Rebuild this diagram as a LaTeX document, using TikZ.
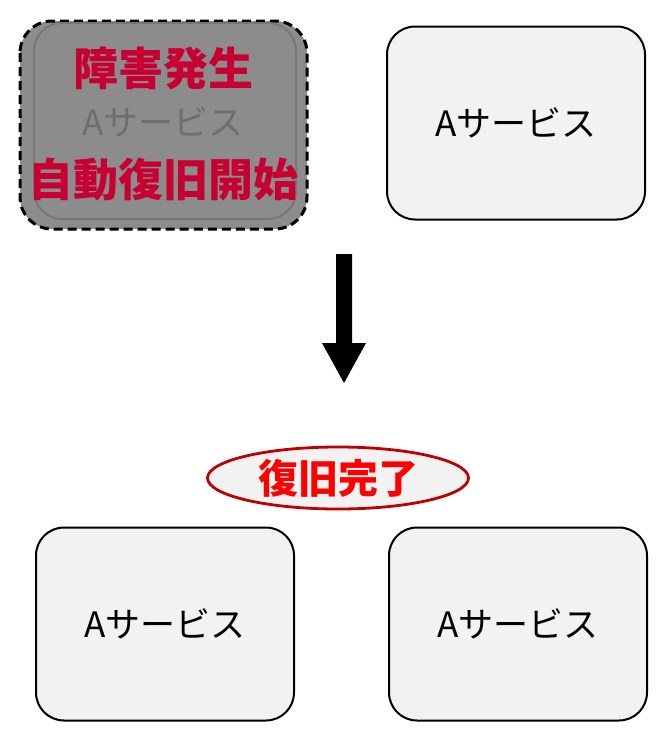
\documentclass[tikz,border=0pt]{standalone}
\usepackage{fontspec}
\setmainfont{Noto Sans CJK JP}
\usetikzlibrary{shapes.geometric}
\definecolor{boxfill}{RGB}{242,242,242}
\definecolor{dimfill}{RGB}{140,140,140}
\definecolor{dimline}{RGB}{118,118,118}
\definecolor{dimtext}{RGB}{110,110,110}
\definecolor{alertred}{RGB}{200,0,50}
\definecolor{donered}{RGB}{255,0,0}
\definecolor{ellline}{RGB}{192,0,0}
\tikzset{
  svcbox/.style={draw=black, line width=2pt, fill=boxfill, rounded corners=28pt, minimum width=258pt, minimum height=193pt, inner sep=0pt},
  svctext/.style={font=\fontsize{35}{40}\selectfont, text=black},
}
\begin{document}
\begin{tikzpicture}[x=1pt,y=-1pt]
\useasboundingbox (0,0) rectangle (670,744);
% failed box
\draw[black, line width=3pt, dash pattern=on 9pt off 5pt, fill=dimfill, rounded corners=32pt] (20,21) rectangle (307,229);
\node[draw=dimline, line width=2pt, rounded corners=28pt, minimum width=262pt, minimum height=196pt] (fail) at (165,121) {};
\node[font=\bfseries\fontsize{45}{50}\selectfont, text=alertred] (t1) at (163,68) {障害発生};
\node[font=\fontsize{35}{40}\selectfont, text=dimtext] (t2) at (163,122) {Aサービス};
\node[font=\bfseries\fontsize{45}{50}\selectfont, text=alertred] (t3) at (163,180) {自動復旧開始};
% top-right
\node[svcbox, svctext] (tr) at (516,123) {Aサービス};
% arrow
\fill[black] (336,254) -- (352,254) -- (352,343) -- (366,343) -- (344,383) -- (322,343) -- (336,343) -- cycle;
% ellipse
\node[ellipse, draw=ellline, line width=2.8pt, fill=boxfill, minimum width=261pt, minimum height=62pt, inner sep=0pt, font=\bfseries\fontsize{40}{44}\selectfont, text=donered] (done) at (338,478) {復旧完了};
% bottom boxes
\node[svcbox, svctext] (bl) at (165,624) {Aサービス};
\node[svcbox, svctext] (br) at (518,624) {Aサービス};
\end{tikzpicture}
\end{document}
